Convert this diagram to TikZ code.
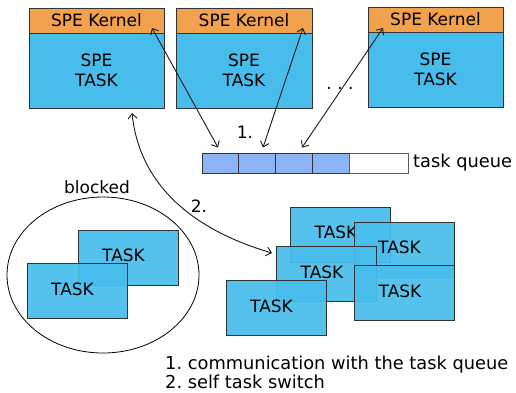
\documentclass[tikz,border=0pt]{standalone}
\usepackage{fontspec}
\setmainfont{DejaVu Sans}
\usetikzlibrary{arrows.meta,shapes.geometric}
\definecolor{speblue}{RGB}{72,189,236}
\definecolor{speorange}{RGB}{242,161,76}
\definecolor{qblue}{RGB}{141,180,246}
\definecolor{bordergray}{RGB}{50,50,55}
\frenchspacing
\tikzset{
  kernelbox/.style={draw=bordergray, fill=speorange, line width=0.8pt, minimum width=135pt, minimum height=25pt, inner sep=0pt, font=\fontsize{17}{20}\selectfont},
  spebox/.style={draw=bordergray, fill=speblue, line width=0.8pt, minimum width=135pt, minimum height=75pt, inner sep=0pt, align=center, font=\fontsize{17}{20}\selectfont},
  taskbox/.style={draw=bordergray, fill=speblue, fill opacity=0.93, line width=0.8pt, minimum width=100pt, minimum height=55pt, inner sep=0pt,
    label={[font=\fontsize{17}{20}\selectfont, inner sep=0pt, xshift=-4.5pt, yshift=2pt]center:TASK}},
  qcell/.style={draw=bordergray, fill=qblue, line width=0.8pt, minimum width=36.75pt, minimum height=20pt, inner sep=0pt},
  qempty/.style={draw=bordergray!80, fill=white, line width=0.8pt, minimum width=59pt, minimum height=20pt, inner sep=0pt},
  lbl/.style={font=\fontsize{17}{20}\selectfont, inner sep=0pt},
  biglbl/.style={font=\fontsize{17.8}{20}\selectfont, inner sep=0pt},
  conn/.style={line width=0.9pt, black!90, {Straight Barb[length=5pt,width=9pt]}-{Straight Barb[length=5pt,width=9pt]}},
}
\begin{document}
\begin{tikzpicture}[x=1pt, y=-1pt]
\useasboundingbox (0,0) rectangle (516,392);
% SPE boxes
\node[kernelbox] (k1) at (96.5,20.5) {SPE Kernel};
\node[spebox] (s1) at (96.5,70.5) {SPE\\TASK};
\node[kernelbox, minimum width=136pt] (k2) at (244,20.5) {SPE Kernel};
\node[spebox, minimum width=136pt] (s2) at (244,70.5) {SPE\\TASK};
\node[kernelbox] (k3) at (435.5,19.5) {SPE Kernel};
\node[spebox] (s3) at (435.5,69.5) {SPE\\TASK};
\node[lbl] (dots) at (340,88) {. . .};
% task queue
\node[qcell] (c1) at (220.375,163) {};
\node[qcell] (c2) at (257.125,163) {};
\node[qcell] (c3) at (293.875,163) {};
\node[qcell] (c4) at (330.625,163) {};
\node[qempty] (c5) at (378.5,163) {};
\node[biglbl, anchor=west] (tq) at (413,163) {task queue};
% arrow endpoints
\coordinate (k1p) at (152,28);
\coordinate (k2p) at (303,28);
\coordinate (k3p) at (383,28);
\coordinate (c1p) at (218,147.5);
\coordinate (c2p) at (263,147.5);
\coordinate (c3p) at (302,147.5);
\draw[conn] (k1p) -- (c1p);
\draw[conn] (k2p) -- (c2p);
\draw[conn] (k3p) -- (c3p);
\node[lbl] (one) at (245,132) {1.};
% blocked
\node[draw=black, line width=0.8pt, ellipse, minimum width=192pt, minimum height=156pt, inner sep=0pt] (blk) at (103,275) {};
\node[lbl] (blklbl) at (97,187) {blocked};
\node[taskbox] (ba) at (128,257.5) {};
\node[taskbox] (bb) at (77,291) {};
% ready tasks
\node[taskbox] (r1) at (340.5,234.5) {};
\node[taskbox] (r2) at (404,249.5) {};
\node[taskbox] (r3) at (326.5,274) {};
\node[taskbox] (r4) at (404.5,293) {};
\node[taskbox] (r5) at (276,308) {};
% self task switch
\coordinate (sw1) at (132,113);
\coordinate (sw2) at (272,253);
\draw[conn] (sw1) .. controls (140,190) and (200,232) .. (sw2);
\node[lbl] (two) at (199,206) {2.};
% legend
\node[biglbl, anchor=base west] (leg1) at (165,369) {1. communication with the task queue};
\node[biglbl, anchor=base west] (leg2) at (165,388) {2. self task switch};
\end{tikzpicture}
\end{document}
